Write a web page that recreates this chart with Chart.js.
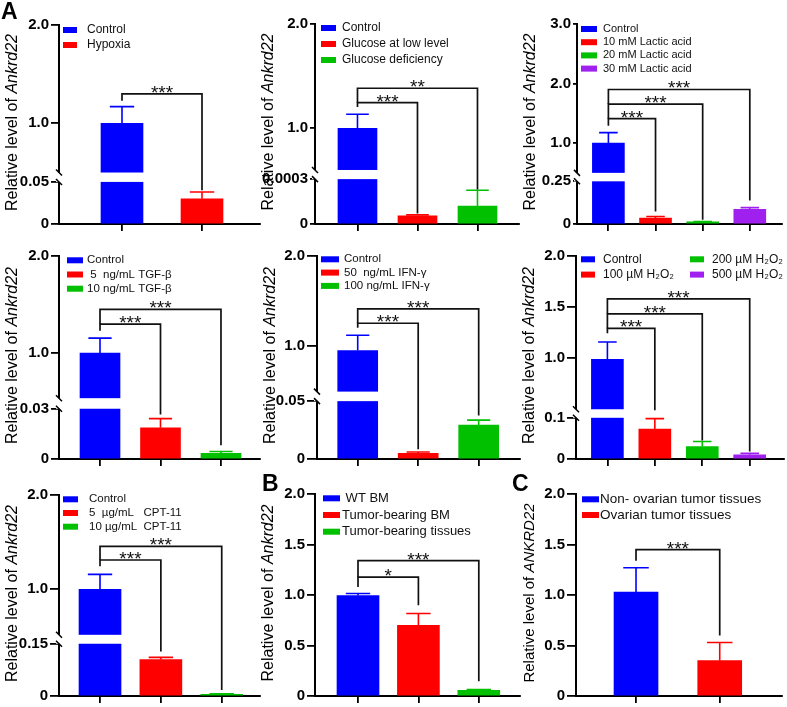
<!DOCTYPE html>
<html>
<head>
<meta charset="utf-8">
<script src="https://cdn.jsdelivr.net/npm/chart.js@4/dist/chart.umd.min.js"></script>
<style>
  body { margin: 0; background: #fff; width: 787px; height: 707px; position: relative; overflow: hidden; font-family: "Liberation Sans", Arial, sans-serif; }
  canvas { position: absolute; }
  .tag { position: absolute; z-index: 2; font-weight: bold; font-size: 23px; line-height: 23px; color: #000; }
</style>
</head>
<body>
<div class="tag" style="left:1px;top:0px">A</div>
<div class="tag" style="left:262px;top:472px">B</div>
<div class="tag" style="left:512px;top:472px">C</div>
<script>
// ---- data ----
const hypoxiaGroups = ['Control', 'Hypoxia'];
const hypoxiaMean = [1.0, 0.030];
const hypoxiaErr = [0.17, 0.008];
const hypoxiaTicks = [0, 0.05, 1.0, 2.0];
const hypoxiaTickLabels = ['0', '0.05', '1.0', '2.0'];
const hypoxiaSig = [[0, 1, 1.30, 1.23, 0.040, '***']];

const glucoseGroups = ['Control', 'Glucose at low level', 'Glucose deficiency'];
const glucoseMean = [1.0, 0.000055, 0.00012];
const glucoseErr = [0.135, 0.000006, 0.000106];
const glucoseTicks = [0, 0.0003, 1.0, 2.0];
const glucoseTickLabels = ['0', '0.0003', '1.0', '2.0'];
const glucoseSig = [[0, 1, 1.245, 1.205, 0.00007, '***'], [0, 2, 1.384, 1.245, 0.00023, '**']];

const lacticGroups = ['Control', '10 mM Lactic acid', '20 mM Lactic acid', '30 mM Lactic acid'];
const lacticMean = [1.0, 0.035, 0.012, 0.086];
const lacticErr = [0.176, 0.009, 0.003, 0.010];
const lacticTicks = [0, 0.25, 1.0, 2.0, 3.0];
const lacticTickLabels = ['0', '0.25', '1.0', '2.0', '3.0'];
const lacticSig = [[0, 1, 1.41, 1.29, 0.073, '***'], [0, 2, 1.656, 1.41, 0.025, '***'], [0, 3, 1.90, 1.656, 0.137, '***']];

const tgfGroups = ['Control', ' 5  ng/mL TGF-β', '10 ng/mL TGF-β'];
const tgfMean = [1.0, 0.0186, 0.0034];
const tgfErr = [0.155, 0.0055, 0.0011];
const tgfTicks = [0, 0.03, 1.0, 2.0];
const tgfTickLabels = ['0', '0.03', '1.0', '2.0'];
const tgfSig = [[0, 1, 1.30, 1.23, 0.0265, '***'], [0, 2, 1.45, 1.30, 0.0082, '***']];

const ifnGroups = ['Control', '50  ng/mL IFN-γ', '100 ng/mL IFN-γ'];
const ifnMean = [0.945, 0.0049, 0.0293];
const ifnErr = [0.172, 0.0011, 0.0043];
const ifnTicks = [0, 0.05, 1.0, 2.0];
const ifnTickLabels = ['0', '0.05', '1.0', '2.0'];
const ifnSig = [[0, 1, 1.25, 1.20, 0.0085, '***'], [0, 2, 1.41, 1.25, 0.0375, '***']];

const h2o2Groups = ['Control', '100 µM H₂O₂', '200 µM H₂O₂', '500 µM H₂O₂'];
const h2o2Mean = [0.983, 0.0727, 0.0304, 0.0103];
const h2o2Err = [0.169, 0.0253, 0.012, 0.0034];
const h2o2Ticks = [0, 0.1, 1.0, 1.5, 2.0];
const h2o2TickLabels = ['0', '0.1', '1.0', '1.5', '2.0'];
const h2o2Sig = [[0, 1, 1.286, 1.24, 0.45, '***'], [0, 2, 1.43, 1.286, 0.045, '***'], [0, 3, 1.578, 1.43, 0.018, '***']];

const cptGroups = ['Control', '5  µg/mL   CPT-11', '10 µg/mL  CPT-11'];
const cptMean = [1.0, 0.1045, 0.005];
const cptErr = [0.158, 0.0065, 0.0012];
const cptTicks = [0, 0.15, 1.0, 2.0];
const cptTickLabels = ['0', '0.15', '1.0', '2.0'];
const cptSig = [[0, 1, 1.31, 1.245, 0.128, '***'], [0, 2, 1.455, 1.31, 0.017, '***']];

const bmGroups = [' WT BM', 'Tumor-bearing BM', 'Tumor-bearing tissues'];
const bmMean = [0.995, 0.70, 0.055];
const bmErr = [0.02, 0.117, 0.01];
const bmSig = [[0, 1, 1.176, 1.08, 0.898, '*'], [0, 2, 1.34, 1.176, 0.147, '***']];

const ovGroups = ['Non- ovarian tumor tissues', 'Ovarian tumor tissues'];
const ovMean = [1.03, 0.35];
const ovErr = [0.24, 0.18];
const ovSig = [[0, 1, 1.45, 1.34, 0.60, '***']];

const plainTicks = [0, 0.5, 1.0, 1.5, 2.0];
const plainTickLabels = ['0', '0.5', '1.0', '1.5', '2.0'];

// ---- styles ----
const BLUE = '#0000ff', RED = '#ff0000', GREEN = '#00c000', PURPLE = '#a020f0';
Chart.defaults.font.family = '"Liberation Sans", Arial, sans-serif';
Chart.defaults.color = '#000';

// y scale with a broken section: lower segment, gap, upper segment
class BrokenScale extends Chart.LinearScale {
  decimalOf(v) {
    const b = this.options.brk;
    if (!b) return v / this.max;
    const up = 1 - b.lowShare - b.gapShare;
    if (v <= b.low) return v / b.low * b.lowShare;
    if (v <= b.high) return b.lowShare + (v - b.low) / (b.high - b.low) * b.gapShare;
    return b.lowShare + b.gapShare + (v - b.high) / (this.max - b.high) * up;
  }
  getPixelForValue(v) {
    if (v === null || v === undefined || isNaN(v)) return NaN;
    return this.getPixelForDecimal(this.decimalOf(v));
  }
  getValueForPixel(p) {
    return this.getDecimalForPixel(p) * this.max;
  }
}
BrokenScale.id = 'broken';
BrokenScale.defaults = Chart.LinearScale.defaults;
Chart.register(BrokenScale);

const panels = [
  { cell: [0, 0, 262, 235], area: { l: 59, t: 25, r: 260, b: 228 }, groups: hypoxiaGroups, mean: hypoxiaMean, err: hypoxiaErr,
    colors: [BLUE, RED], ticks: hypoxiaTicks, tickLabels: hypoxiaTickLabels, sig: hypoxiaSig, max: 2,
    brk: { low: 0.05, high: 0.5, lowShare: 0.2115, gapShare: 0.0472 }, xRange: [-0.7875, 1.725], barW: 42, tickLen: 8,
    gene: 'Ankrd22', titleSize: 16, legend: { dx: 4, tx: 28, dy: 5, row: 15, boxW: 14, size: 12 } },
  { cell: [254, 0, 270, 235], area: { l: 315, t: 24, r: 519, b: 228 }, groups: glucoseGroups, mean: glucoseMean, err: glucoseErr,
    colors: [BLUE, RED, GREEN], ticks: glucoseTicks, tickLabels: glucoseTickLabels, sig: glucoseSig, max: 2,
    brk: { low: 0.0003, high: 0.6, lowShare: 0.2244, gapShare: 0.0457 }, xRange: [-0.708, 2.692], barW: 39, tickLen: 5,
    gene: 'Ankrd22', titleSize: 16, legend: { dx: 6, tx: 27, dy: 4, row: 16, boxW: 15, size: 12 } },
  { cell: [516, 0, 271, 235], area: { l: 577, t: 24, r: 782, b: 228 }, groups: lacticGroups, mean: lacticMean, err: lacticErr,
    colors: [BLUE, RED, GREEN, PURPLE], ticks: lacticTicks, tickLabels: lacticTickLabels, sig: lacticSig, max: 3,
    brk: { low: 0.25, high: 0.5, lowShare: 0.2134, gapShare: 0.0423 }, xRange: [-0.666, 3.683], barW: 32, tickLen: 4,
    gene: 'Ankrd22', titleSize: 16, legend: { dx: 4, tx: 26, dy: 5, row: 13.2, boxW: 16, size: 11 } },
  { cell: [0, 235, 262, 235], area: { l: 59, t: 256, r: 260, b: 462 }, groups: tgfGroups, mean: tgfMean, err: tgfErr,
    colors: [BLUE, RED, GREEN], ticks: tgfTicks, tickLabels: tgfTickLabels, sig: tgfSig, max: 2,
    brk: { low: 0.03, high: 0.537, lowShare: 0.2476, gapShare: 0.052 }, xRange: [-0.678, 2.645], barW: 40, tickLen: 8,
    gene: 'Ankrd22', titleSize: 16, legend: { dx: 8, tx: 28, dy: 4.3, row: 14.2, boxW: 16, size: 11.5 } },
  { cell: [254, 235, 270, 235], area: { l: 317, t: 256, r: 520, b: 462 }, groups: ifnGroups, mean: ifnMean, err: ifnErr,
    colors: [BLUE, RED, GREEN], ticks: ifnTicks, tickLabels: ifnTickLabels, sig: ifnSig, max: 2,
    brk: { low: 0.05, high: 0.488, lowShare: 0.285, gapShare: 0.047 }, xRange: [-0.673, 2.683], barW: 40, tickLen: 10,
    gene: 'Ankrd22', titleSize: 16, legend: { dx: 4, tx: 27, dy: 3.3, row: 13.3, boxW: 18, size: 11.5 } },
  { cell: [516, 235, 271, 235], area: { l: 576, t: 256, r: 784, b: 461 }, groups: h2o2Groups, mean: h2o2Mean, err: h2o2Err,
    colors: [BLUE, RED, GREEN, PURPLE], ticks: h2o2Ticks, tickLabels: h2o2TickLabels, sig: h2o2Sig, max: 2,
    brk: { low: 0.1, high: 0.49, lowShare: 0.203, gapShare: 0.042 }, xRange: [-0.662, 3.723], barW: 32, tickLen: 9,
    gene: 'Ankrd22', titleSize: 16, legend: { dx: 5, tx: 27, dy: 3.3, row: 15.3, boxW: 14, size: 12, perCol: 2, colW: 109 } },
  { cell: [0, 470, 262, 237], area: { l: 59, t: 495, r: 260, b: 698 }, groups: cptGroups, mean: cptMean, err: cptErr,
    colors: [BLUE, RED, GREEN], ticks: cptTicks, tickLabels: cptTickLabels, sig: cptSig, max: 2,
    brk: { low: 0.15, high: 0.516, lowShare: 0.26, gapShare: 0.0444 }, xRange: [-0.674, 2.629], barW: 42, tickLen: 9,
    gene: 'Ankrd22', titleSize: 16, legend: { dx: 4, tx: 30, dy: 4.3, row: 13.7, boxW: 15, size: 11.5 } },
  { cell: [254, 470, 270, 237], area: { l: 315, t: 494, r: 520, b: 698 }, groups: bmGroups, mean: bmMean, err: bmErr,
    colors: [BLUE, RED, GREEN], ticks: plainTicks, tickLabels: plainTickLabels, sig: bmSig, max: 2,
    brk: null, xRange: [-0.712, 2.682], barW: 42, tickLen: 8,
    gene: 'Ankrd22', titleSize: 16, legend: { dx: 8, tx: 27, dy: 4.3, row: 16.7, boxW: 17, size: 13 } },
  { cell: [516, 470, 271, 237], area: { l: 576, t: 494, r: 782, b: 698 }, groups: ovGroups, mean: ovMean, err: ovErr,
    colors: [BLUE, RED], ticks: plainTicks, tickLabels: plainTickLabels, sig: ovSig, max: 2,
    brk: null, xRange: [-0.717, 1.744], barW: 44, tickLen: 9,
    gene: 'ANKRD22', titleSize: 15, legend: { dx: 6, tx: 24, dy: 5.3, row: 15.7, boxW: 17, size: 13.5 } }
];

// draws the axis break, error bars, brackets, legend and y title
function decoPlugin(p) {
  return {
    id: 'deco',
    afterDatasetsDraw(chart) {
      const ctx = chart.ctx, xs = chart.scales.x, ys = chart.scales.y, area = chart.chartArea;
      const bars = chart.getDatasetMeta(0).data;
      ctx.save();
      if (p.brk) {
        const yHi = ys.getPixelForValue(p.brk.high), yLo = ys.getPixelForValue(p.brk.low);
        ctx.fillStyle = '#fff';
        bars.forEach((b, i) => {
          if (p.mean[i] > p.brk.high) ctx.fillRect(b.x - b.width / 2 - 1, yHi, b.width + 2, yLo - yHi);
        });
        ctx.fillRect(area.left - 3, yHi, 6, yLo - yHi);
        ctx.strokeStyle = '#000';
        ctx.lineWidth = 1.5;
        ctx.beginPath();
        [yHi, yLo].forEach(yy => { ctx.moveTo(area.left - 3, yy - 3); ctx.lineTo(area.left + 3, yy + 3); });
        ctx.stroke();
      }
      // error bars (upper only)
      ctx.lineWidth = 1.6;
      bars.forEach((b, i) => {
        const top = ys.getPixelForValue(p.mean[i] + p.err[i]);
        const cap = b.width * 0.29;
        ctx.strokeStyle = p.colors[i];
        ctx.beginPath();
        ctx.moveTo(b.x, b.y); ctx.lineTo(b.x, top);
        ctx.moveTo(b.x - cap, top); ctx.lineTo(b.x + cap, top);
        ctx.stroke();
      });
      // significance brackets
      ctx.strokeStyle = '#111'; ctx.fillStyle = '#111'; ctx.lineWidth = 1.7;
      ctx.font = '19px "Liberation Sans"'; ctx.textAlign = 'center'; ctx.textBaseline = 'alphabetic';
      p.sig.forEach(([a, b, lvl, endA, endB, txt]) => {
        const xa = xs.getPixelForValue(a), xb = xs.getPixelForValue(b), yl = ys.getPixelForValue(lvl);
        ctx.beginPath();
        ctx.moveTo(xa, ys.getPixelForValue(endA)); ctx.lineTo(xa, yl);
        ctx.lineTo(xb, yl); ctx.lineTo(xb, ys.getPixelForValue(endB));
        ctx.stroke();
        ctx.fillText(txt, (xa + xb) / 2, yl + 5);
      });
      // legend
      const L = p.legend;
      ctx.font = L.size + 'px "Liberation Sans"'; ctx.textAlign = 'left'; ctx.textBaseline = 'middle';
      p.groups.forEach((g, i) => {
        const col = L.perCol ? Math.floor(i / L.perCol) : 0;
        const row = L.perCol ? i % L.perCol : i;
        const off = col * (L.colW || 0);
        const cy = area.top + L.dy + row * L.row;
        ctx.fillStyle = p.colors[i];
        ctx.fillRect(area.left + L.dx + off, cy - 3, L.boxW, 6);
        ctx.fillStyle = '#111';
        ctx.fillText(g, area.left + L.tx + off, cy);
      });
      // y axis title with italic gene name
      ctx.translate(area.left - 46, (area.top + area.bottom) / 2 - 2);
      ctx.rotate(-Math.PI / 2);
      const f1 = p.titleSize + 'px "Liberation Sans"', f2 = 'italic ' + f1;
      const head = 'Relative level of ';
      ctx.font = f1; const w1 = ctx.measureText(head).width;
      ctx.font = f2; const w2 = ctx.measureText(p.gene).width;
      ctx.fillStyle = '#000';
      ctx.font = f1; ctx.fillText(head, -(w1 + w2) / 2, 0);
      ctx.font = f2; ctx.fillText(p.gene, -(w1 + w2) / 2 + w1, 0);
      ctx.restore();
    }
  };
}

panels.forEach(p => {
  const [cx, cy, cw, ch] = p.cell;
  const cv = document.createElement('canvas');
  cv.width = cw; cv.height = ch;
  cv.style.left = cx + 'px'; cv.style.top = cy + 'px';
  document.body.appendChild(cv);
  new Chart(cv, {
    type: 'bar',
    data: {
      datasets: [{
        data: p.mean.map((v, k) => ({ x: k, y: v })),
        backgroundColor: p.colors,
        borderWidth: 0,
        barThickness: p.barW
      }]
    },
    options: {
      responsive: false,
      animation: false,
      events: [],
      layout: { autoPadding: false, padding: { left: 0, top: p.area.t - cy, right: cx + cw - p.area.r, bottom: 0 } },
      plugins: { legend: { display: false }, tooltip: { enabled: false } },
      scales: {
        x: {
          type: 'linear', min: p.xRange[0], max: p.xRange[1], offset: false, z: 1,
          grid: { offset: false, drawOnChartArea: false, drawTicks: true, tickLength: 7, color: '#000', lineWidth: 1.8 },
          border: { color: '#000', width: 2 },
          ticks: { autoSkip: false, callback: () => '' },
          afterBuildTicks: s => { s.ticks = p.mean.map((v, k) => ({ value: k })); },
          afterFit: s => { s.height = cy + ch - p.area.b; }
        },
        y: {
          type: 'broken', min: 0, max: p.max, brk: p.brk,
          grid: { drawOnChartArea: false, drawTicks: true, tickLength: p.tickLen, color: '#000', lineWidth: 1.8 },
          border: { color: '#000', width: 2 },
          ticks: { autoSkip: false, padding: 2, color: '#000', font: { size: 15, weight: 'bold' }, callback: (v, k) => p.tickLabels[k] },
          afterBuildTicks: s => { s.ticks = p.ticks.map(v => ({ value: v })); },
          afterFit: s => { s.width = p.area.l - cx; }
        }
      }
    },
    plugins: [decoPlugin(p)]
  });
});
</script>
</body>
</html>
